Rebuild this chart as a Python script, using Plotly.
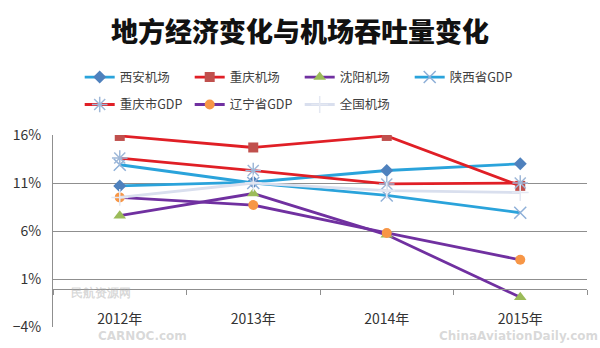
import plotly.graph_objects as go

# Categories and growth rates (%)
years = ["2012年", "2013年", "2014年", "2015年"]
xian_airport = [10.7, 11.1, 12.3, 13.0]
chongqing_airport = [15.9, 14.7, 15.9, 10.7]
shenyang_airport = [7.6, 9.9, 5.6, -0.9]
shaanxi_gdp = [12.9, 11.0, 9.7, 7.9]
chongqing_gdp = [13.6, 12.3, 10.9, 11.0]
liaoning_gdp = [9.5, 8.7, 5.8, 3.0]
national_airports = [9.5, 11.0, 10.2, 10.0]

y_min, y_max, y_step = -4, 16, 5

CYAN = "#2aa3db"
RED = "#e01f26"
PURPLE = "#7030a0"
PALE = "#d9dfee"
GRID = "#8f8f8f"
FONT = "Noto Sans CJK SC, Noto Sans, sans-serif"

series = [
    # name, values, line colour, marker symbol, marker colour, marker size, legend
    ("西安机场", xian_airport, CYAN, "diamond", "#4f81bd", 10, "legend"),
    ("重庆机场", chongqing_airport, RED, "square", "#c0504d", 10, "legend"),
    ("沈阳机场", shenyang_airport, PURPLE, "triangle-up", "#9bbb59", 11, "legend"),
    ("陕西省GDP", shaanxi_gdp, CYAN, "x-thin-open", "#8fb0d8", 12, "legend"),
    ("重庆市GDP", chongqing_gdp, RED, "asterisk-open", "#9fb8d8", 13, "legend2"),
    ("辽宁省GDP", liaoning_gdp, PURPLE, "circle", "#f79646", 10, "legend2"),
    ("全国机场", national_airports, PALE, "cross-thin-open", "#e4e8f2", 12, "legend2"),
]

fig = go.Figure()
for name, vals, lc, sym, mc, ms, lg in series:
    open_sym = sym.endswith("-open")
    fig.add_trace(go.Scatter(
        x=years, y=vals, name=name, mode="lines+markers",
        line=dict(color=lc, width=2.8),
        marker=dict(
            symbol=sym, size=ms, color=mc,
            line=dict(color=mc, width=1.5 if open_sym else 0),
        ),
        legend=lg,
    ))

legend_common = dict(
    orientation="h", xanchor="left", yanchor="middle",
    x=0.05, entrywidth=65, entrywidthmode="pixels",
    font=dict(family=FONT, size=12.5, color="#404040"),
    bgcolor="rgba(0,0,0,0)", itemclick=False, itemdoubleclick=False,
)

# Faint site watermarks along the bottom edge
watermarks = [
    ("民航资源网", 0.03, 0.175, 12),
    ("CARNOC.com", 0.08, -0.045, 12),
    ("ChinaAviationDaily.com", 0.72, -0.045, 12),
]
annotations = [
    dict(text=t, xref="paper", yref="paper", x=x, y=y, showarrow=False,
         xanchor="left", yanchor="middle",
         font=dict(family="DejaVu Sans, sans-serif", size=s,
                   color="rgba(170,170,170,0.45)", weight="bold"))
    for t, x, y, s in watermarks
]

fig.update_layout(
    width=600, height=348,
    margin=dict(l=53, r=13, t=135, b=16),
    paper_bgcolor="white", plot_bgcolor="white",
    title=dict(
        text="地方经济变化与机场吞吐量变化",
        x=0.5, xanchor="center", xref="container",
        y=1 - 33 / 348, yanchor="middle",
        font=dict(family=FONT, size=27, color="#111111", weight=900),
    ),
    legend=dict(y=1.30, **legend_common),
    legend2=dict(y=1.157, **legend_common),
    xaxis=dict(
        type="category", range=[-0.5, len(years) - 0.5],
        anchor="free", position=(0 - y_min) / (y_max - y_min),
        showline=True, linecolor=GRID, linewidth=1,
        ticks="outside", tickson="boundaries", ticklen=5, tickcolor=GRID,
        showgrid=False, ticklabelstandoff=18,
        tickfont=dict(family=FONT, size=14, color="#333333"),
    ),
    yaxis=dict(
        range=[y_min, y_max], tick0=y_min, dtick=y_step, ticksuffix="%",
        showgrid=True, gridcolor=GRID, gridwidth=1,
        showline=True, linecolor=GRID, linewidth=1,
        zeroline=False, ticks="", ticklabelstandoff=8,
        tickfont=dict(family=FONT, size=14, color="#333333"),
    ),
    annotations=annotations,
    showlegend=True,
)

fig.write_html("out.html")
